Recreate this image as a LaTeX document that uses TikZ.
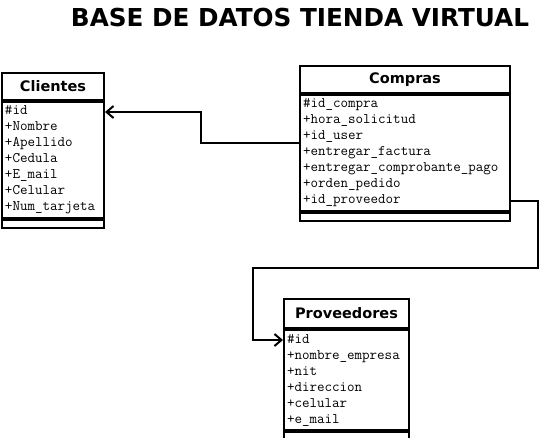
\documentclass[tikz,border=0pt]{standalone}
\usepackage{fontspec}
\setmainfont{DejaVu Sans}
\usetikzlibrary{arrows.meta}

\tikzset{
  clase/.style={draw=black, line width=2pt, anchor=north west, inner sep=0pt},
  nombre/.style={clase, font=\fontsize{14.5}{16}\selectfont\bfseries},
  atributos/.style={clase, align=left, inner xsep=3pt, font=\fontsize{14.6}{16}\selectfont\ttfamily},
  vacio/.style={clase, minimum height=8pt},
  flecha/.style={line width=2pt, -{Straight Barb[length=7pt,width=12pt]}}
}

\begin{document}
\begin{tikzpicture}[x=1pt,y=-1pt]
\useasboundingbox (0,0) rectangle (541,437);
\node[font=\fontsize{24.7}{26}\selectfont\bfseries] (titulo) at (300,18) {BASE DE DATOS TIENDA VIRTUAL};
% Clientes
\node[nombre, minimum width=102pt, minimum height=27pt] (cli-n) at (1,72) {Clientes};
\node[atributos, minimum width=102pt, minimum height=116pt, text width=96pt] (cli-a) at (cli-n.south west)
{\#id\\+Nombre\\+Apellido\\+Cedula\\+E\_mail\\+Celular\\+Num\_tarjeta};
\node[vacio, minimum width=102pt] (cli-v) at (cli-a.south west) {};
% Compras
\node[nombre, minimum width=210pt, minimum height=27pt] (com-n) at (299,65) {Compras};
\node[atributos, minimum width=210pt, minimum height=116pt, text width=204pt] (com-a) at (com-n.south west)
{\#id\_compra\\+hora\_solicitud\\+id\_user\\+entregar\_factura\\+entregar\_comprobante\_pago\\+orden\_pedido\\+id\_proveedor};
\node[vacio, minimum width=210pt] (com-v) at (com-a.south west) {};
% Proveedores
\node[nombre, minimum width=125pt, minimum height=29pt] (pro-n) at (283,298) {Proveedores};
\node[atributos, minimum width=125pt, minimum height=100pt, text width=119pt] (pro-a) at (pro-n.south west)
{\#id\\+nombre\_empresa\\+nit\\+direccion\\+celular\\+e\_mail};
\node[vacio, minimum width=125pt] (pro-v) at (pro-a.south west) {};
% relaciones
\coordinate (p1) at (538,268);
\coordinate (p2) at (253,268);
\draw[flecha] ([yshift=-49pt]com-a.north west) -- ++(-98,0) |- ([yshift=-11pt]cli-a.north east);
\draw[flecha] ([yshift=-107pt]com-a.north east) -| (p1) -- (p2) |- ([yshift=-11pt]pro-a.north west);
\end{tikzpicture}
\end{document}
